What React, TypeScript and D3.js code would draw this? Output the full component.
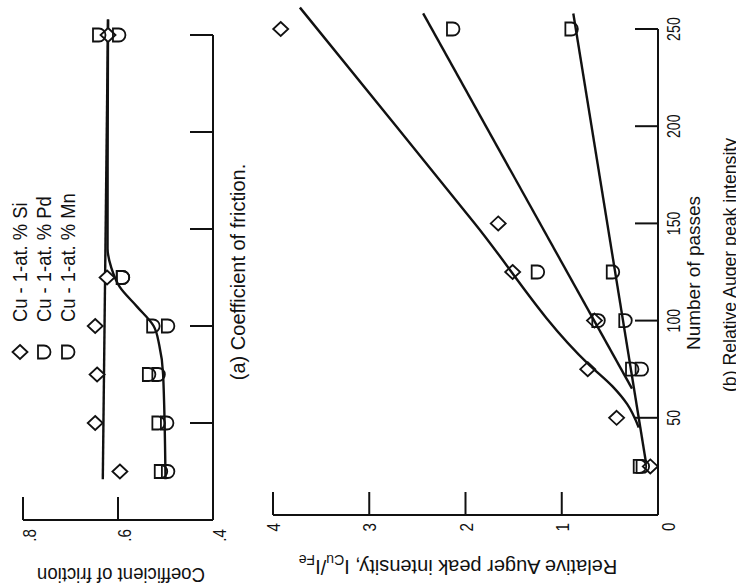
import React from 'react';
import * as d3 from 'd3';

// ---------- shared ----------
const passTicks = [50, 100, 150, 200, 250];
const passTickLabels = ['50', '100', '150', '200', '250'];

// ---------- panel (a): coefficient of friction ----------
const frictionTicks = [0.8, 0.6, 0.4];
const frictionTickLabels = ['.8', '.6', '.4'];
const passesA = [25, 50, 75, 100, 125, 250];
const frictionSi = [0.596, 0.648, 0.644, 0.648, 0.623, 0.621];
const frictionPd = [0.51, 0.515, 0.535, 0.526, 0.59, 0.64];
const frictionMn = [0.495, 0.497, 0.515, 0.495, 0.59, 0.598];
const fitSiAPasses = [21, 258];
const fitSiAFriction = [0.632, 0.621];
const fitAlloyAPasses = [21, 75, 90, 100, 110, 120, 130, 140, 258];
const fitAlloyAFriction = [0.5, 0.505, 0.513, 0.525, 0.56, 0.596, 0.614, 0.622, 0.621];

// ---------- panel (b): relative Auger peak intensity ----------
const intensityTicks = [1, 2, 3, 4];
const intensityTickLabels = ['1', '2', '3', '4'];
const passesBSi = [25, 50, 75, 100, 125, 150, 250];
const intensitySi = [0.08, 0.43, 0.73, 0.66, 1.51, 1.66, 3.92];
const passesBAlloy = [25, 75, 100, 125, 250];
const intensityPd = [0.19, 0.17, 0.62, 1.25, 2.13];
const intensityMn = [0.16, 0.27, 0.34, 0.47, 0.9];
const fitMnPasses = [27, 258];
const fitMnIntensity = [0.125, 0.88];
const fitPdPasses = [65, 258];
const fitPdIntensity = [0.27, 2.44];
const fitSiBPasses = [45, 57, 66, 77, 150, 200, 261];
const fitSiBIntensity = [0.2, 0.32, 0.47, 0.71, 1.904, 2.72, 3.72];

const legendLabels = ['Cu - 1-at. % Si', 'Cu - 1-at. % Pd', 'Cu - 1-at. % Mn'];
const legendSymbols = ['diamond', 'pd', 'mn'];

const FONT = '"Liberation Sans Narrow", "Liberation Sans", Arial, sans-serif';

const diamondPath = 'M0,-7 L7.5,0 L0,7 L-7.5,0 Z';
const dPath = 'M-6,-6.5 L0,-6.5 A6.5,6.5 0 0 1 0,6.5 L-6,6.5 Z';
const symPath = (s: string) => (s === 'diamond' ? diamondPath : dPath);

export default function App() {
  // scales: passes run upward on screen, values run leftward
  const yA = d3.scaleLinear().domain([0, 250]).range([520, 35]);
  const xF = d3.scaleLinear().domain([0.4, 0.8]).range([213, 23]);
  const yB = d3.scaleLinear().domain([0, 250]).range([515, 29]);
  const xI = d3.scaleLinear().domain([0, 4]).range([658, 273]);

  const lineA = d3.line<[number, number]>().x(d => xF(d[1])).y(d => yA(d[0])).curve(d3.curveMonotoneY);
  const lineB = d3.line<[number, number]>().x(d => xI(d[1])).y(d => yB(d[0])).curve(d3.curveMonotoneY);
  const zip = (a: number[], b: number[]) => a.map((v, i) => [v, b[i]] as [number, number]);

  const stroke = '#111';
  const tickLen = 23;

  const rotText = (x: number, y: number, txt: React.ReactNode, anchor: string, size: number, key?: any, rot = -90, sx = 1) => (
    <text
      key={key}
      transform={`translate(${x},${y}) rotate(${rot}) scale(${sx},1)`}
      textAnchor={anchor}
      fontSize={size}
      fontFamily={FONT}
      fill={stroke}
    >
      {txt}
    </text>
  );

  return (
    <svg width={736} height={588} style={{ position: 'absolute', left: 0, top: 0, background: '#fff' }}>
      <rect width={736} height={588} fill="#fff" />
      {/* ---------- panel (a) axes ---------- */}
      <g stroke={stroke} strokeWidth={2} fill="none">
        <line x1={xF(0.4)} x2={xF(0.4)} y1={yA(0)} y2={yA(250)} />
        <line x1={xF(0.8)} x2={xF(0.4)} y1={yA(0)} y2={yA(0)} />
        {passTicks.map(t => (
          <line key={t} x1={xF(0.4)} x2={xF(0.4) - tickLen} y1={yA(t)} y2={yA(t)} />
        ))}
        {frictionTicks.filter(t => t !== 0.4).map(t => (
          <line key={t} x1={xF(t)} x2={xF(t)} y1={yA(0)} y2={yA(0) - tickLen} />
        ))}
      </g>
      {frictionTicks.map((t, i) => rotText(xF(t) + 13, yA(0) + 9, frictionTickLabels[i], 'end', 19, 'fl' + i, -90, 0.8))}
      {rotText(121, 568, 'Coefficient of friction', 'middle', 20, 'fa', 180, 0.93)}
      {rotText(245, 272, '(a) Coefficient of friction.', 'middle', 20, 'capA', -90, 1)}

      {/* legend */}
      {legendLabels.map((l, i) => (
        <g key={l}>
          <path d={symPath(legendSymbols[i])} transform={`translate(${20 + i * 24},352)`} fill="none" stroke={stroke} strokeWidth={1.8} />
          {rotText(27 + i * 24, 322, l, 'start', 20, 'lg' + i, -90, 0.92)}
        </g>
      ))}

      {/* panel (a) fits */}
      <g fill="none" stroke={stroke} strokeWidth={2.4}>
        <path d={lineA(zip(fitSiAPasses, fitSiAFriction)) || ''} />
        <path d={lineA(zip(fitAlloyAPasses, fitAlloyAFriction)) || ''} />
      </g>
      <g fill="none" stroke={stroke} strokeWidth={1.8}>
        {passesA.map((p, i) => (
          <path key={'sa' + i} d={diamondPath} transform={`translate(${xF(frictionSi[i])},${yA(p)})`} fill="#fff" />
        ))}
        {passesA.map((p, i) => (
          <path key={'pa' + i} d={dPath} transform={`translate(${xF(frictionPd[i])},${yA(p)})`} />
        ))}
        {passesA.map((p, i) => (
          <path key={'ma' + i} d={dPath} transform={`translate(${xF(frictionMn[i])},${yA(p)})`} />
        ))}
      </g>

      {/* ---------- panel (b) axes ---------- */}
      <g stroke={stroke} strokeWidth={2} fill="none">
        <line x1={xI(0)} x2={xI(0)} y1={yB(0)} y2={yB(250)} />
        <line x1={xI(4)} x2={xI(0)} y1={yB(0)} y2={yB(0)} />
        {passTicks.map(t => (
          <line key={t} x1={xI(0)} x2={xI(0) - tickLen} y1={yB(t)} y2={yB(t)} />
        ))}
        {intensityTicks.map(t => (
          <line key={t} x1={xI(t)} x2={xI(t)} y1={yB(0)} y2={yB(0) - tickLen} />
        ))}
      </g>
      {passTicks.map((t, i) => rotText(xI(0) + 22, yB(t), passTickLabels[i], 'middle', 19, 'pl' + i, -90, 0.75))}
      {intensityTicks.map((t, i) => rotText(xI(t) + 7, yB(0) + 8, intensityTickLabels[i], 'end', 19, 'il' + i, -90, 0.8))}
      {rotText(xI(0) + 17, yB(0) + 16, '0', 'start', 19, 'zero', -90, 0.8)}
      {rotText(700, 273, 'Number of passes', 'middle', 19, 'np', -90, 1)}
      {rotText(736, 265, '(b) Relative Auger peak intensity', 'middle', 19, 'capB', -90, 0.93)}
      {rotText(
        458,
        560,
        <>
          Relative Auger peak intensity,  I<tspan dy={5} fontSize={14}>Cu</tspan>
          <tspan dy={-5}>/I</tspan>
          <tspan dy={5} fontSize={14}>Fe</tspan>
        </>,
        'middle',
        20,
        'ia',
        180,
        1
      )}

      {/* panel (b) fits */}
      <g fill="none" stroke={stroke} strokeWidth={2.4}>
        <path d={lineB(zip(fitMnPasses, fitMnIntensity)) || ''} />
        <path d={lineB(zip(fitPdPasses, fitPdIntensity)) || ''} />
        <path d={lineB(zip(fitSiBPasses, fitSiBIntensity)) || ''} />
      </g>
      <g fill="none" stroke={stroke} strokeWidth={1.8}>
        {passesBSi.map((p, i) => (
          <path key={'sb' + i} d={diamondPath} transform={`translate(${xI(intensitySi[i])},${yB(p)})`} />
        ))}
        {passesBAlloy.map((p, i) => (
          <path key={'pb' + i} d={dPath} transform={`translate(${xI(intensityPd[i])},${yB(p)})`} />
        ))}
        {passesBAlloy.map((p, i) => (
          <path key={'mb' + i} d={dPath} transform={`translate(${xI(intensityMn[i])},${yB(p)})`} />
        ))}
      </g>
    </svg>
  );
}
